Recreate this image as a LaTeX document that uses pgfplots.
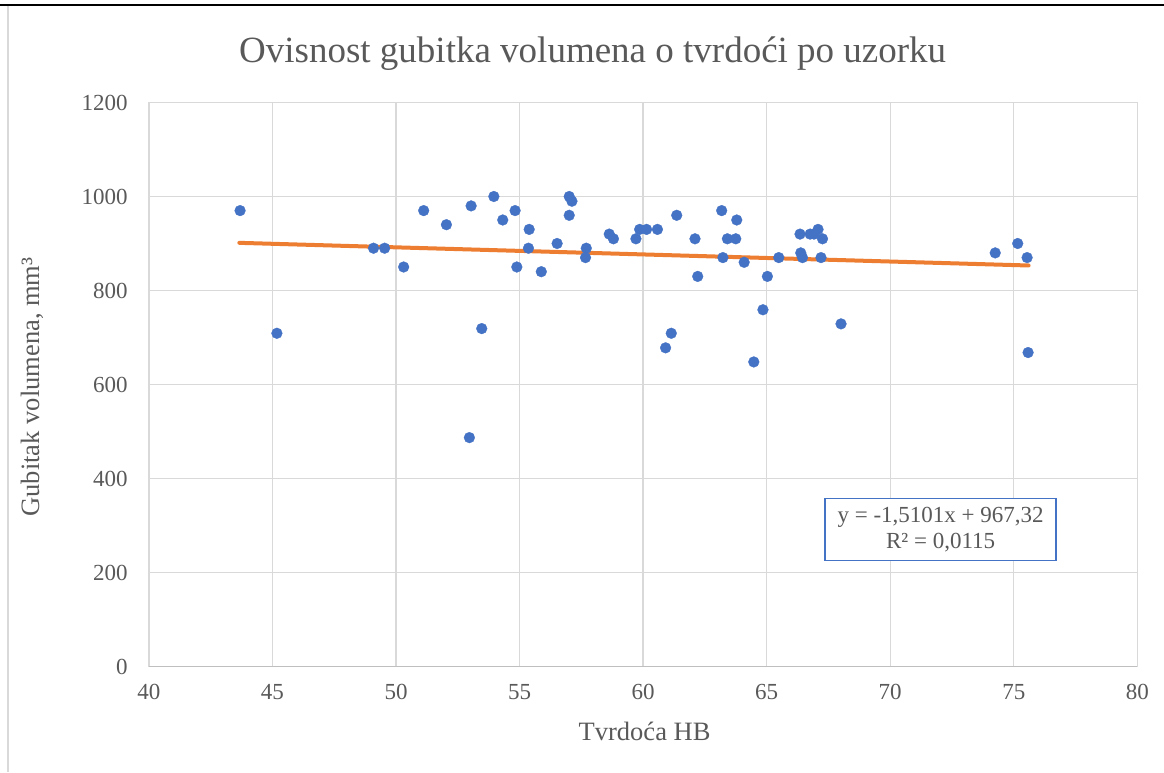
\documentclass[border=0pt]{standalone}
\usepackage{pgfplots}
\pgfplotsset{compat=1.18}
\usepackage{fontspec}
\setmainfont{Liberation Serif}
\definecolor{txt}{HTML}{595959}
\definecolor{pts}{HTML}{4472C4}
\definecolor{trend}{HTML}{ED7D31}
\definecolor{grd}{HTML}{D9D9D9}
\definecolor{axl}{HTML}{BFBFBF}

\pgfplotstableread{
x y
43.69 970
45.18 709
49.09 890
49.54 890
50.31 850
51.12 970
52.04 940
52.97 487
53.04 980
53.47 719
53.96 1000
54.32 950
54.82 970
54.89 850
55.39 930
55.36 890
55.88 840
56.52 900
57.01 1000
57.12 990
57.01 960
57.70 890
57.67 870
58.63 920
58.80 910
59.71 910
59.86 930
60.14 930
60.58 930
61.36 960
60.91 678
61.14 709
62.10 910
62.21 830
63.18 970
63.23 870
63.41 910
63.75 910
63.79 950
64.09 860
64.85 759
64.48 648
65.03 830
65.49 870
66.35 920
66.38 880
66.45 870
66.76 920
66.92 920
67.08 930
67.26 910
67.20 870
68.01 729
74.25 880
75.16 900
75.54 870
75.58 668
}\samples

\begin{document}
\begin{tikzpicture}[x=1pt,y=1pt]
\useasboundingbox (0,0) rectangle (1164,772);
\fill[white] (0,0) rectangle (1164,772);
\draw[black, line width=1.5pt] (0,767) -- (1164,767);
\draw[grd, line width=2pt] (7.5,766) -- (7.5,0);
\begin{axis}[
  at={(148.9pt,105.5pt)}, anchor=south west,
  scale only axis, width=988.4pt, height=564pt,
  xmin=40, xmax=80, ymin=0, ymax=1200,
  xtick={40,45,...,80}, ytick={0,200,...,1200},
  grid=major, major grid style={grd, line width=1.4pt},
  axis x line*=bottom, axis y line*=left,
  x axis line style={axl, line width=1.5pt, -},
  y axis line style={draw=none, -},
  major tick length=0pt, tick style={draw=none},
  /pgf/number format/assume math mode=true,
  /pgf/number format/1000 sep={},
  tick label style={font=\fontsize{23}{27}\selectfont, text=txt},
  xticklabel style={inner sep=0pt, anchor=north, yshift=-17.5pt},
  yticklabel style={inner sep=0pt, anchor=east, xshift=-21pt},
  title={Ovisnost gubitka volumena o tvrdoći po uzorku},
  title style={at={(axis description cs:0.449,1.0755)}, anchor=center,
    font=\fontsize{37}{44}\selectfont, text=txt, inner sep=0pt},
  xlabel={Tvrdoća HB},
  xlabel style={at={(axis description cs:0.5015,-0.1144)}, anchor=center,
    font=\fontsize{26.5}{30}\selectfont, text=txt, inner sep=0pt},
  ylabel={Gubitak volumena, mm³},
  ylabel style={at={(axis description cs:-0.1184,0.4956)}, anchor=center,
    font=\fontsize{26.5}{30}\selectfont, text=txt, inner sep=0pt},
  clip=false,
]
\addplot[trend, line width=4pt, line cap=round] coordinates {(43.66,901.4) (75.6,853.2)};
\addplot[only marks, mark=*, mark size=5.4pt, mark options={fill=pts, draw=pts, line width=0.3pt}] table[x=x,y=y] {\samples};
\node[draw=pts, line width=1.5pt, fill=white, minimum width=231pt, minimum height=62pt,
  align=center, font=\fontsize{23}{26}\selectfont, text=txt, inner sep=0pt]
  at (axis cs:72.04,291.5) {y = -1,5101x + 967,32\\R² = 0,0115};
\end{axis}
\end{tikzpicture}
\end{document}
